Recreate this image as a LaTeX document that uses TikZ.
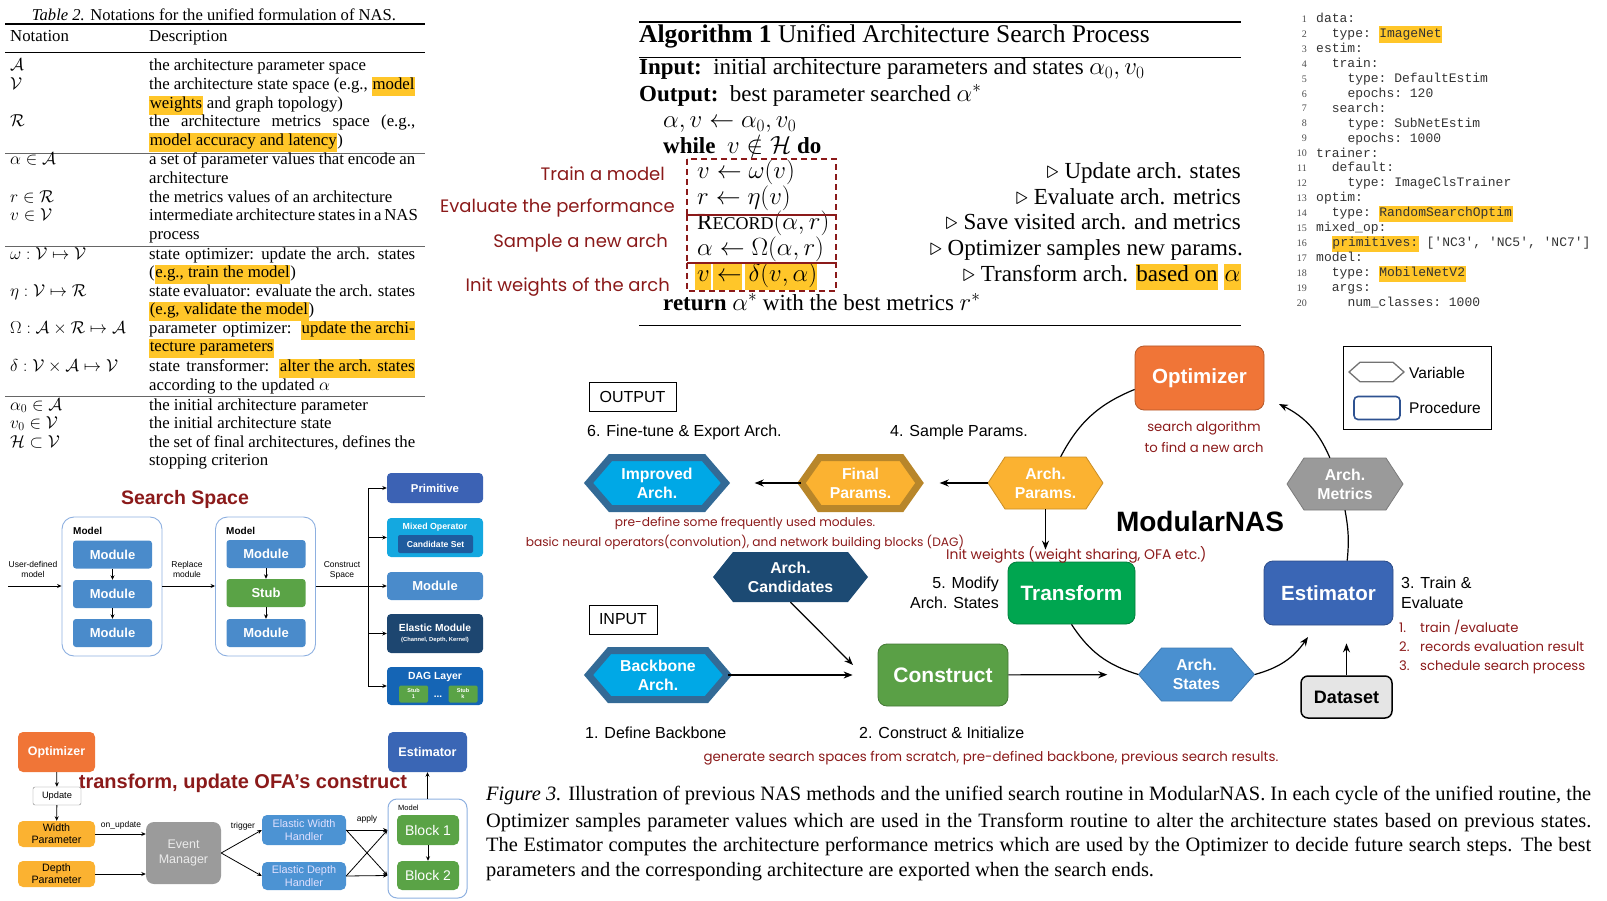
\documentclass[tikz,border=0pt]{standalone}
\usepackage{amssymb}
\usepackage{amsmath}
\usepackage{fontspec}
\setmainfont{Liberation Serif}
\setsansfont{Liberation Sans}
\setmonofont{Liberation Mono}
\newfontfamily\notefont{Poppins}
\usetikzlibrary{arrows.meta}

\definecolor{hlyellow}{HTML}{FFC629}
\definecolor{notered}{HTML}{8B1A1A}
\definecolor{optorange}{HTML}{F07537}
\definecolor{constrgreen}{HTML}{5AA046}
\definecolor{transgreen}{HTML}{00A650}
\definecolor{estblue}{HTML}{3A66B5}
\definecolor{paramgold}{HTML}{FBB231}
\definecolor{paramdark}{HTML}{B8862A}
\definecolor{archcyan}{HTML}{00A8E6}
\definecolor{archdark}{HTML}{336A96}
\definecolor{candnavy}{HTML}{1C4A73}
\definecolor{stateblue}{HTML}{4A90D0}
\definecolor{metricgray}{HTML}{9A9A9A}
\definecolor{modblue}{HTML}{4A8BCB}
\definecolor{stubgreen}{HTML}{5AA346}
\definecolor{primblue}{HTML}{3C62B4}
\definecolor{mixcyan}{HTML}{14A8E0}
\definecolor{candblue}{HTML}{1E5C9E}
\definecolor{elanavy}{HTML}{1D4670}
\definecolor{dagblue}{HTML}{1565B5}
\definecolor{modelline}{HTML}{8EB0E0}
\definecolor{handblue}{HTML}{4C93D3}
\definecolor{eventgray}{HTML}{9B9B9B}

\newcommand{\hl}[1]{{\setlength{\fboxsep}{0.6pt}\colorbox{hlyellow}{\strut #1}}}
\newcommand{\jl}[1]{\makebox[266pt][s]{#1}}
\newcommand{\capl}[1]{\makebox[1105pt][s]{#1}}
\newcommand{\hexnode}[8]{%
  \path[#7] ({#2-#4/2},#3) -- ({#2-#4/2+#6},{#3-#5/2}) -- ({#2+#4/2-#6},{#3-#5/2})
    -- ({#2+#4/2},#3) -- ({#2+#4/2-#6},{#3+#5/2}) -- ({#2-#4/2+#6},{#3+#5/2}) -- cycle;
  \node[hexlabel, minimum width=#4, minimum height=#5] (#1) at (#2,#3) {#8};}
\newcommand{\codeln}[3]{%
  \node[lnum] (l#1) at (1307,{19+(#1-1)*14.95}) {#1};
  \node[yaml] (c#1) at ({1316+7.83*#2},{19+(#1-1)*14.95}) {#3};}

\begin{document}
\begin{tikzpicture}[
    x=1pt, y=-1pt,
    >={Stealth[length=9pt,width=7pt]},
    tcell/.style={anchor=west, inner sep=0, font=\fontsize{16.8}{18}\selectfont, text height=12pt, text depth=4pt},
    algl/.style={anchor=west, inner sep=0, font=\fontsize{23}{25}\selectfont, text height=15pt, text depth=5pt},
    algc/.style={algl, anchor=east},
    note/.style={anchor=east, inner sep=0, text=notered, font=\notefont\fontsize{18}{20}\selectfont},
    redbox/.style={draw=notered, line width=2, dash pattern=on 6pt off 4pt},
    lnum/.style={anchor=east, inner sep=0, text=black!70, font=\fontsize{10}{12}\selectfont},
    yaml/.style={anchor=west, inner sep=0, text=black!80, font=\ttfamily\fontsize{13}{15}\selectfont, text height=10pt, text depth=3pt},
    sstitle/.style={inner sep=0, text=notered, font=\sffamily\bfseries\fontsize{19.5}{22}\selectfont},
    ssmodel/.style={draw=modelline, line width=0.9, rounded corners=12, minimum width=100, minimum height=139, inner sep=0},
    ssmod/.style={fill=#1, rounded corners=3, text=white, inner sep=0, minimum width=79, minimum height=28, font=\sffamily\bfseries\fontsize{13}{13}\selectfont},
    ssopt/.style={fill=#1, rounded corners=4, text=white, inner sep=0, minimum width=96, align=center, font=\sffamily\bfseries\fontsize{11.4}{12}\selectfont},
    lbl/.style={inner sep=0, align=center, font=\sffamily\fontsize{8.5}{10}\selectfont},
    sarr/.style={-{Stealth[length=4.5pt,width=4pt]}, line width=0.8},
    ofa/.style={fill=#1, rounded corners=5, inner sep=0, align=center, font=\sffamily\fontsize{10.7}{12}\selectfont},
    proc/.style={rounded corners=9, draw=#1!75!black, fill=#1, line width=0.8, text=white, inner sep=0, font=\sffamily\bfseries\fontsize{20.5}{22}\selectfont},
    hexlabel/.style={inner sep=0, text=white, align=center, font=\sffamily\bfseries\fontsize{15.8}{19}\selectfont},
    steplab/.style={inner sep=0, font=\sffamily\fontsize{16}{19.5}\selectfont},
    rednote/.style={inner sep=0, text=notered, font=\notefont\fontsize{12.2}{19}\selectfont},
    flow/.style={->, line width=1.2},
    cyc/.style={line width=1.2}
]
\useasboundingbox (0,0) rectangle (1607,901);

% notation table
\node[inner sep=0, font=\fontsize{16.6}{18}\selectfont] (tcap) at (214,15) {\textit{Table 2.} Notations for the unified formulation of NAS.};
\draw[line width=1.3] (5,24) -- (425,24);
\node[tcell] (hn) at (10,38) {Notation};
\node[tcell] (hd) at (149,38) {Description};
\draw[line width=0.7] (5,52) -- (425,52);
\node[tcell] (n1) at (10,67) {$\mathcal{A}$};
\node[tcell] (d1) at (149,67) {the architecture parameter space};
\node[tcell] (n2) at (10,86) {$\mathcal{V}$};
\node[tcell] (d2) at (149,86) {\jl{the architecture state space (e.g., \hl{model}}};
\node[tcell] (d2b) at (149,105) {\hl{weights} and graph topology)};
\node[tcell] (n3) at (10,123) {$\mathcal{R}$};
\node[tcell] (d3) at (149,123) {\jl{the architecture metrics space (e.g.,}};
\node[tcell] (d3b) at (149,142) {\hl{model accuracy and latency})};
\draw[line width=0.7, black!60] (5,153) -- (425,153);
\node[tcell] (n4) at (10,161) {$\alpha \in \mathcal{A}$};
\node[tcell] (d4) at (149,161) {\jl{a set of parameter values that encode an}};
\node[tcell] (d4b) at (149,180) {architecture};
\node[tcell] (n5) at (10,199) {$r \in \mathcal{R}$};
\node[tcell] (d5) at (149,199) {the metrics values of an architecture};
\node[tcell] (n6) at (10,217) {$v \in \mathcal{V}$};
\node[tcell] (d6) at (149,217) {\jl{intermediate architecture states in a NAS}};
\node[tcell] (d6b) at (149,236) {process};
\draw[line width=0.7, black!60] (5,246) -- (425,246);
\node[tcell] (n7) at (10,256) {$\omega : \mathcal{V} \mapsto \mathcal{V}$};
\node[tcell] (d7) at (149,256) {\jl{state optimizer: update the arch. states}};
\node[tcell] (d7b) at (149,274) {(\hl{e.g., train the model})};
\node[tcell] (n8) at (10,293) {$\eta : \mathcal{V} \mapsto \mathcal{R}$};
\node[tcell] (d8) at (149,293) {\jl{state evaluator: evaluate the arch. states}};
\node[tcell] (d8b) at (149,311) {\hl{(e.g, validate the model})};
\node[tcell] (n9) at (10,330) {$\Omega : \mathcal{A} \times \mathcal{R} \mapsto \mathcal{A}$};
\node[tcell] (d9) at (149,330) {\jl{parameter optimizer: \hl{update the archi-}}};
\node[tcell] (d9b) at (149,348) {\hl{tecture parameters}};
\node[tcell] (n10) at (10,368) {$\delta : \mathcal{V} \times \mathcal{A} \mapsto \mathcal{V}$};
\node[tcell] (d10) at (149,368) {\jl{state transformer: \hl{alter the arch. states}}};
\node[tcell] (d10b) at (149,386) {according to the updated $\alpha$};
\draw[line width=0.7, black!60] (5,396) -- (425,396);
\node[tcell] (n11) at (10,406) {$\alpha_0 \in \mathcal{A}$};
\node[tcell] (d11) at (149,406) {the initial architecture parameter};
\node[tcell] (n12) at (10,424) {$v_0 \in \mathcal{V}$};
\node[tcell] (d12) at (149,424) {the initial architecture state};
\node[tcell] (n13) at (10,443) {$\mathcal{H} \subset \mathcal{V}$};
\node[tcell] (d13) at (149,443) {\jl{the set of final architectures, defines the}};
\node[tcell] (d13b) at (149,461) {stopping criterion};

% algorithm
\draw[line width=1.6] (639,22) -- (1241,22);
\node[algl, font=\fontsize{25.5}{27}\selectfont] (atitle) at (639,38) {\textbf{Algorithm 1} Unified Architecture Search Process};
\draw[line width=0.8] (639,57) -- (1241,57);
\node[algl] (ain) at (639,70) {\textbf{Input:}\enspace initial architecture parameters and states $\alpha_0, v_0$};
\node[algl] (aout) at (639,97) {\textbf{Output:}\enspace best parameter searched $\alpha^*$};
\node[algl] (a1) at (663,123) {$\alpha, v \leftarrow \alpha_0, v_0$};
\node[algl] (a2) at (663,149) {\textbf{while}\enspace $v \notin \mathcal{H}$ \textbf{do}};
\fill[hlyellow] (695,264) rectangle (711,290);
\fill[hlyellow] (713,264) rectangle (742,290);
\fill[hlyellow] (745,264) rectangle (817,290);
\node[algl] (a3) at (697,174) {$v \leftarrow \omega(v)$};
\node[algl] (a4) at (697,200) {$r \leftarrow \eta(v)$};
\node[algl] (a5) at (697,225) {R{\fontsize{18}{18}\selectfont ECORD}$(\alpha, r)$};
\node[algl] (a6) at (697,251) {$\alpha \leftarrow \Omega(\alpha, r)$};
\node[algl] (a7) at (697,277) {$v \leftarrow \delta(v, \alpha)$};
\node[algl] (a8) at (663,306) {\textbf{return} $\alpha^*$ with the best metrics $r^*$};
\draw[line width=0.8] (639,325) -- (1241,325);
\node[algc] (k3) at (1241,174) {$\triangleright$ Update arch. states};
\node[algc] (k4) at (1241,200) {$\triangleright$ Evaluate arch. metrics};
\node[algc] (k5) at (1241,225) {$\triangleright$ Save visited arch. and metrics};
\node[algc] (k6) at (1243,251) {$\triangleright$ Optimizer samples new params.};
\node[algc] (k7) at (1241,277) {$\triangleright$ Transform arch. \hl{based on} \hl{$\alpha$}};
\draw[redbox] (687,159) rectangle (836,215);
\draw[redbox] (687,215) rectangle (836,263);
\draw[redbox] (687,263) rectangle (836,291);
\draw[notered, line width=2] (687,263) -- (836,263);
\node[note] (t1) at (665,174) {Train a model};
\node[note] (t2) at (675,208) {Evaluate the performance};
\node[note] (t3) at (668,243) {Sample a new arch};
\node[note] (t4) at (670,287) {Init weights of the arch};

% config file
\codeln{1}{0}{data:}
\codeln{2}{2}{type: \hl{ImageNet}}
\codeln{3}{0}{estim:}
\codeln{4}{2}{train:}
\codeln{5}{4}{type: DefaultEstim}
\codeln{6}{4}{epochs: 120}
\codeln{7}{2}{search:}
\codeln{8}{4}{type: SubNetEstim}
\codeln{9}{4}{epochs: 1000}
\codeln{10}{0}{trainer:}
\codeln{11}{2}{default:}
\codeln{12}{4}{type: ImageClsTrainer}
\codeln{13}{0}{optim:}
\codeln{14}{2}{type: \hl{RandomSearchOptim}}
\codeln{15}{0}{mixed\_op:}
\codeln{16}{2}{\hl{primitives:} [\textquotesingle NC3\textquotesingle, \textquotesingle NC5\textquotesingle, \textquotesingle NC7\textquotesingle]}
\codeln{17}{0}{model:}
\codeln{18}{2}{type: \hl{MobileNetV2}}
\codeln{19}{2}{args:}
\codeln{20}{4}{num\_classes: 1000}

% search space
\node[sstitle] (sst) at (185,499) {Search Space};
\node[ssmodel] (mod1) at (112,586.5) {};
\node[anchor=west, inner sep=0, font=\sffamily\bfseries\fontsize{10}{10}\selectfont] (mod1t) at (73,531) {Model};
\node[ssmod=modblue] (m1a) at (112.5,554.5) {Module};
\node[ssmod=modblue] (m1b) at (112.5,594) {Module};
\node[ssmod=modblue] (m1c) at (112.5,633) {Module};
\draw[sarr] (m1a) -- (m1b);
\draw[sarr] (m1b) -- (m1c);
\node[ssmodel] (mod2) at (265.5,586.5) {};
\node[anchor=west, inner sep=0, font=\sffamily\bfseries\fontsize{10}{10}\selectfont] (mod2t) at (226,531) {Model};
\node[ssmod=modblue] (m2a) at (266,554) {Module};
\node[ssmod=stubgreen] (m2b) at (266,593) {Stub};
\node[ssmod=modblue] (m2c) at (266,633) {Module};
\draw[sarr] (m2a) -- (m2b);
\draw[sarr] (m2b) -- (m2c);
\coordinate (uin) at (8,586);
\draw[sarr, line width=1] (uin) -- (uin -| mod1.west);
\node[lbl] (uinl) at (33,569) {User-defined\\model};
\draw[sarr, line width=1] (mod1.east |- uin) -- (mod2.west |- uin);
\node[lbl] (repl) at (187,569) {Replace\\module};
\coordinate (split) at (368,586);
\draw[line width=1] (mod2.east |- split) -- (split);
\node[lbl] (cspl) at (342,570) {Construct\\Space};
\node[ssopt=primblue, minimum height=30] (prim) at (435,488) {Primitive};
\node[ssopt=mixcyan, minimum height=39] (mix) at (435,537.5) {};
\node[inner sep=0, text=white, font=\sffamily\bfseries\fontsize{8.8}{9}\selectfont] (mixt) at (435,527) {Mixed Operator};
\node[fill=candblue, rounded corners=2, minimum width=75, minimum height=18, inner sep=0, text=white, font=\sffamily\bfseries\fontsize{8.6}{9}\selectfont] (cset) at (435.5,544) {Candidate Set};
\node[ssopt=modblue, minimum height=28, font=\sffamily\bfseries\fontsize{13}{13}\selectfont] (modr) at (435,586) {Module};
\node[ssopt=elanavy, minimum height=39, font=\sffamily\bfseries\fontsize{10.3}{10}\selectfont] (ela) at (435,633.5) {Elastic Module\\{\fontsize{5.8}{6}\selectfont (Channel, Depth, Kernel)}};
\node[ssopt=dagblue, minimum height=38] (dag) at (435,686) {};
\node[inner sep=0, text=white, font=\sffamily\bfseries\fontsize{10.4}{11}\selectfont] (dagt) at (435,677) {DAG Layer};
\node[fill=stubgreen, rounded corners=1.5, minimum width=29, minimum height=17, inner sep=0, text=white, align=center, font=\sffamily\bfseries\fontsize{5.5}{6}\selectfont] (stub1) at (413.5,694) {Stub\\1};
\node[fill=stubgreen, rounded corners=1.5, minimum width=29, minimum height=17, inner sep=0, text=white, align=center, font=\sffamily\bfseries\fontsize{5.5}{6}\selectfont] (stubk) at (463,694) {Stub\\k};
\node[inner sep=0, text=white, font=\sffamily\bfseries\fontsize{10}{10}\selectfont] (sdots) at (438,697) {...};
\draw[line width=1] (split |- prim) -- (split |- dag);
\draw[sarr, line width=1] (split |- prim) -- (prim);
\draw[sarr, line width=1] (split |- mix) -- (mix);
\draw[sarr, line width=1] (split) -- (modr);
\draw[sarr, line width=1] (split |- ela) -- (ela);
\draw[sarr, line width=1] (split |- dag) -- (dag);

% OFA transform
\node[ofa=optorange, minimum width=77, minimum height=40, text=white, font=\sffamily\bfseries\fontsize{12.4}{13}\selectfont] (opt2) at (56.5,752) {Optimizer};
\node[draw=black!50, fill=white, rounded corners=2, minimum width=48, minimum height=18, inner sep=0, font=\sffamily\fontsize{9.3}{10}\selectfont] (upd) at (57,796) {Update};
\node[ofa=paramgold, minimum width=77, minimum height=26] (wpar) at (56.5,834) {Width\\Parameter};
\node[ofa=paramgold, minimum width=77, minimum height=26] (dpar) at (56.5,874) {Depth\\Parameter};
\node[ofa=eventgray, minimum width=75, minimum height=62, rounded corners=8, text=black!8, font=\sffamily\fontsize{12.5}{15}\selectfont] (evm) at (183.5,853) {Event\\Manager};
\node[ofa=handblue, minimum width=84, minimum height=30, text=white!88!blue, font=\sffamily\fontsize{10.9}{12.5}\selectfont] (ewh) at (304,830) {Elastic Width\\Handler};
\node[ofa=handblue, minimum width=84, minimum height=28, text=white!88!blue, font=\sffamily\fontsize{10.9}{12.5}\selectfont] (edh) at (304,876) {Elastic Depth\\Handler};
\node[draw=modelline, line width=1, rounded corners=9, minimum width=79, minimum height=99, inner sep=0] (mdl) at (427.5,848.5) {};
\node[anchor=west, inner sep=0, font=\sffamily\fontsize{7.5}{8}\selectfont] (mdlt) at (398,808) {Model};
\node[ofa=stubgreen, minimum width=62, minimum height=30, text=white, font=\sffamily\fontsize{14}{15}\selectfont] (b1) at (428,830) {Block 1};
\node[ofa=stubgreen, minimum width=62, minimum height=29, text=white, font=\sffamily\fontsize{14}{15}\selectfont] (b2) at (428,875.5) {Block 2};
\node[ofa=estblue, minimum width=79, minimum height=40, text=white, font=\sffamily\bfseries\fontsize{12.6}{13}\selectfont] (est2) at (427.5,752) {Estimator};
\draw[sarr] (opt2) -- (upd);
\draw[sarr] (upd) -- (wpar);
\draw[sarr] (wpar) -- (wpar -| evm.west);
\node[lbl] (onu) at (121,825) {on\_update};
\draw[sarr] (dpar) -- (dpar -| evm.west);
\draw[sarr] (evm.east) -- (ewh.west);
\draw[sarr] (evm.east) -- (edh.west);
\node[lbl] (trg) at (243,826) {trigger};
\draw[sarr] (ewh.east) -- (mdl.west |- b1);
\draw[sarr] (ewh.east) -- (mdl.west |- b2);
\draw[sarr] (edh.east) -- (mdl.west |- b1);
\draw[sarr] (edh.east) -- (mdl.west |- b2);
\node[lbl] (apl) at (367,819) {apply};
\draw[sarr] (b1) -- (b2);
\draw[sarr] (mdl) -- (est2);
\node[sstitle, font=\sffamily\bfseries\fontsize{20}{22}\selectfont] (ofat) at (243,783) {transform, update OFA’s construct};

% ModularNAS routine
\node[draw, line width=0.8, minimum width=87, minimum height=29, inner sep=0, font=\sffamily\fontsize{16}{16}\selectfont] (outb) at (632.5,396.5) {OUTPUT};
\node[steplab, anchor=west] (st6) at (587,432) {6. Fine-tune \& Export Arch.};
\node[steplab, anchor=west] (st4) at (890,432) {4. Sample Params.};
\hexnode{impr}{657}{483}{137}{51}{22}{fill=archcyan, draw=archdark, line width=7}{Improved\\Arch.}
\hexnode{finp}{860.5}{483}{118}{51}{18}{fill=paramgold, draw=paramdark, line width=7}{Final\\Params.}
\hexnode{archp}{1045.5}{483}{115}{52}{17}{fill=paramgold, draw=paramgold!80!black, line width=0.8}{Arch.\\Params.}
\hexnode{metr}{1345}{484}{116}{52}{17}{fill=metricgray, draw=metricgray!80!black, line width=0.8}{Arch.\\Metrics}
\hexnode{cand}{790.5}{577}{155}{50}{20}{fill=candnavy}{Arch.\\Candidates}
\hexnode{bkb}{658}{675}{139}{49}{21}{fill=archcyan, draw=archdark, line width=7}{Backbone\\Arch.}
\hexnode{stat}{1196.5}{674.5}{116}{53}{23}{fill=stateblue, draw=stateblue!85!black, line width=0.8}{Arch.\\States}
\node[proc=optorange, minimum width=129, minimum height=64] (optim) at (1199.5,378) {Optimizer};
\node[proc=transgreen, minimum width=127, minimum height=62, font=\sffamily\bfseries\fontsize{20.8}{22}\selectfont] (trans) at (1071.5,593) {Transform};
\node[proc=constrgreen, minimum width=130, minimum height=62, font=\sffamily\bfseries\fontsize{21}{22}\selectfont] (constr) at (943,675) {Construct};
\node[proc=estblue, minimum width=129, minimum height=64] (estim) at (1328.5,593) {Estimator};
\node[draw, fill=black!10, line width=1.5, rounded corners=7, minimum width=91, minimum height=42, inner sep=0, font=\sffamily\bfseries\fontsize{18}{18}\selectfont] (dset) at (1346.5,697) {Dataset};
\node[draw, line width=0.8, minimum width=68, minimum height=29, inner sep=0, font=\sffamily\fontsize{16}{16}\selectfont] (inb) at (623,619.5) {INPUT};
\node[steplab, anchor=west] (st1) at (585,733) {1. Define Backbone};
\node[steplab, anchor=west] (st2) at (859,733) {2. Construct \& Initialize};
\node[steplab, anchor=east, align=right] (st5) at (999,593) {5. Modify\\Arch. States};
\node[steplab, anchor=west, align=left] (st3) at (1401,593) {3. Train \&\\Evaluate};
\node[inner sep=0, font=\sffamily\bfseries\fontsize{28}{28}\selectfont] (mnas) at (1200,521) {ModularNAS};
\coordinate (cin) at (853,665);
\coordinate (oin) at (1279,404);
\coordinate (ein) at (1308,637);
\draw[flow, shorten >=29] (finp) -- (impr);
\draw[flow, shorten >=20] (archp) -- (finp);
\draw[flow, shorten >=12] (archp.south) -- (archp.south |- trans.north);
\draw[flow] (cand.south) -- (cin);
\draw[flow, shorten >=25] (bkb) -- (constr);
\draw[flow, shorten >=31] (constr) -- (stat);
\draw[flow, shorten >=18] (dset) -- (dset |- estim.south);
\draw[cyc] (archp.60) to[bend left=20] (optim.190);
\draw[cyc, ->] (metr.120) to[bend right=20] (oin);
\draw[cyc] (metr.south) to[bend left=8] (estim.60);
\draw[cyc] (trans.south) to[bend right=20] (stat.west);
\draw[cyc, ->] (stat.east) to[bend right=20] (ein);
\node[rednote, align=center, font=\notefont\fontsize{13.2}{21}\selectfont] (salg) at (1204,437.5) {search algorithm\\to find a new arch};
\node[rednote] (pred1) at (745,523) {pre-define some frequently used modules.};
\node[rednote] (pred2) at (745,542) {basic neural operators(convolution), and network building blocks (DAG)};
\node[rednote, anchor=west, font=\notefont\fontsize{13.9}{19}\selectfont] (initw) at (946,555) {Init weights (weight sharing, OFA etc.)};
\node[rednote, font=\notefont\fontsize{13.4}{19}\selectfont] (gen) at (991,758) {generate search spaces from scratch, pre-defined backbone, previous search results.};
\node[rednote, anchor=west, font=\notefont\fontsize{13.2}{19}\selectfont] (e1) at (1399,627) {\makebox[21pt][l]{1.}train /evaluate};
\node[rednote, anchor=west, font=\notefont\fontsize{13.2}{19}\selectfont] (e2) at (1399,647) {\makebox[21pt][l]{2.}records evaluation result};
\node[rednote, anchor=west, font=\notefont\fontsize{13.2}{19}\selectfont] (e3) at (1399,667) {\makebox[21pt][l]{3.}schedule search process};

% legend
\node[draw, line width=0.8, minimum width=148, minimum height=83, inner sep=0] (legd) at (1417,388) {};
\hexnode{lgvar}{1376.5}{372}{55}{19.5}{11}{draw=black!55, line width=1.3}{}
\node[draw=estblue!80!black, line width=1.6, rounded corners=4, minimum width=46, minimum height=23, inner sep=0] (lgproc) at (1377,408) {};
\node[anchor=west, inner sep=0, font=\sffamily\fontsize{15.5}{16}\selectfont] (lgvt) at (1409,373) {Variable};
\node[anchor=west, inner sep=0, font=\sffamily\fontsize{15.5}{16}\selectfont] (lgpt) at (1409,408) {Procedure};

% caption
\node[anchor=west, inner sep=0, font=\fontsize{20.4}{22}\selectfont] (cap1) at (486,796) {\capl{\textit{Figure 3.} Illustration of previous NAS methods and the unified search routine in ModularNAS. In each cycle of the unified routine, the}};
\node[anchor=west, inner sep=0, font=\fontsize{20.4}{22}\selectfont] (cap2) at (486,822) {\capl{Optimizer samples parameter values which are used in the Transform routine to alter the architecture states based on previous states.}};
\node[anchor=west, inner sep=0, font=\fontsize{20.4}{22}\selectfont] (cap3) at (486,847) {\capl{The Estimator computes the architecture performance metrics which are used by the Optimizer to decide future search steps. The best}};
\node[anchor=west, inner sep=0, font=\fontsize{20.4}{22}\selectfont] (cap4) at (486,872) {parameters and the corresponding architecture are exported when the search ends.};
\end{tikzpicture}
\end{document}
